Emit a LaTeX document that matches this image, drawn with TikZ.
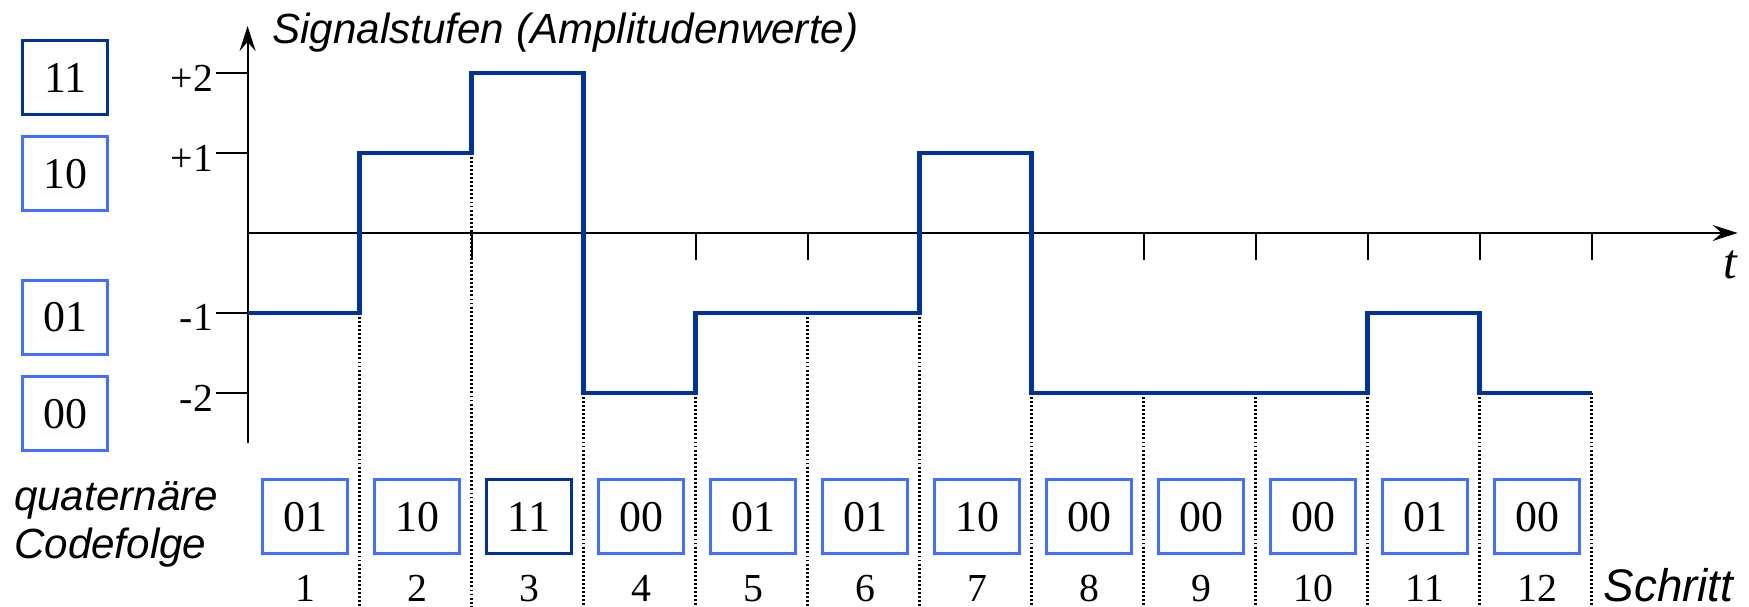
\documentclass[tikz,border=0pt]{standalone}
\usepackage{fontspec}
\setmainfont{Liberation Serif}
\setsansfont{Liberation Sans}
\usepackage{tikz}
\usetikzlibrary{arrows.meta}
\usetikzlibrary{positioning}

\definecolor{signalblue}{RGB}{0,51,153}
\definecolor{boxblue}{RGB}{64,112,255}

\begin{document}
\begin{tikzpicture}[
            codebox/.style={draw=boxblue, line width=0.7pt, minimum width=0.85cm, minimum height=0.74cm, inner sep=0pt, font=\fontsize{12.5}{15}\selectfont},
            darkbox/.style={codebox, draw=signalblue},
            signal/.style={draw=signalblue, line width=1.4pt},
            gridline/.style={line width=0.9pt, dash pattern=on 0.55pt off 0.6pt},
            axis/.style={line width=0.6pt},
            lvl/.style={anchor=east, inner sep=0pt, font=\fontsize{11.3}{13}\selectfont},
            stepnr/.style={anchor=base, inner sep=0pt, font=\fontsize{11.3}{13}\selectfont},
            caption/.style={inner sep=0pt, font=\sffamily\itshape\fontsize{12}{14}\selectfont}
        ]
            \useasboundingbox (-2.476,-3.73) rectangle (15.014,2.33);

            % step borders
            \draw[gridline] (1.12,-0.8) -- (1.12,-3.73);
            \draw[gridline] (2.24,0.8) -- (2.24,-3.73);
            \draw[gridline] (3.36,-1.6) -- (3.36,-3.73);
            \draw[gridline] (4.48,-1.6) -- (4.48,-3.73);
            \draw[gridline] (5.60,-0.8) -- (5.60,-3.73);
            \draw[gridline] (6.72,-0.8) -- (6.72,-3.73);
            \draw[gridline] (7.84,-1.6) -- (7.84,-3.73);
            \draw[gridline] (8.96,-1.6) -- (8.96,-3.73);
            \draw[gridline] (10.08,-1.6) -- (10.08,-3.73);
            \draw[gridline] (11.20,-1.6) -- (11.20,-3.73);
            \draw[gridline] (12.32,-1.6) -- (12.32,-3.73);
            \draw[gridline] (13.44,-1.6) -- (13.44,-3.73);

            % axes
            \draw[axis, -{Stealth[length=2.5mm, width=1.6mm, inset=0.9mm]}] (0,-2.1) -- (0,2.07);
            \draw[axis, -{Stealth[length=2.5mm, width=1.6mm, inset=0.9mm]}] (0,0) -- (14.9,0);
            \draw[axis] (-0.32,1.6) -- (0,1.6);
            \draw[axis] (-0.32,0.8) -- (0,0.8);
            \draw[axis] (-0.32,-0.8) -- (0,-0.8);
            \draw[axis] (-0.32,-1.6) -- (0,-1.6);
            \draw[axis] (1.12,0) -- (1.12,-0.27);
            \draw[axis] (2.24,0) -- (2.24,-0.27);
            \draw[axis] (3.36,0) -- (3.36,-0.27);
            \draw[axis] (4.48,0) -- (4.48,-0.27);
            \draw[axis] (5.60,0) -- (5.60,-0.27);
            \draw[axis] (6.72,0) -- (6.72,-0.27);
            \draw[axis] (7.84,0) -- (7.84,-0.27);
            \draw[axis] (8.96,0) -- (8.96,-0.27);
            \draw[axis] (10.08,0) -- (10.08,-0.27);
            \draw[axis] (11.20,0) -- (11.20,-0.27);
            \draw[axis] (12.32,0) -- (12.32,-0.27);
            \draw[axis] (13.44,0) -- (13.44,-0.27);

            \draw (-0.34,1.55) node[lvl] (p2) {+2};
            \draw (-0.34,0.75) node[lvl] (p1) {+1};
            \draw (-0.34,-0.84) node[lvl] (m1) {-1};
            \draw (-0.34,-1.65) node[lvl] (m2) {-2};
            \draw (0.24,1.897) node[caption, anchor=base west] (ylab) {Signalstufen (Amplitudenwerte)};
            \draw (14.83,-0.45) node[anchor=base, inner sep=0pt, font=\itshape\fontsize{14}{16}\selectfont] (tlab) {t};

            % signal
            \draw[signal] (0,-0.8) -- (1.12,-0.8) -- (1.12,0.8) -- (2.24,0.8) -- (2.24,1.6)
                -- (3.36,1.6) -- (3.36,-1.6) -- (4.48,-1.6) -- (4.48,-0.8) -- (6.72,-0.8)
                -- (6.72,0.8) -- (7.84,0.8) -- (7.84,-1.6) -- (11.20,-1.6) -- (11.20,-0.8)
                -- (12.32,-0.8) -- (12.32,-1.6) -- (13.44,-1.6);

            % level codes
            \draw (-1.824,1.555) node[darkbox] (k11) {11};
            \draw (-1.824,0.593) node[codebox] (k10) {10};
            \draw (-1.824,-0.843) node[codebox] (k01) {01};
            \draw (-1.824,-1.807) node[codebox] (k00) {00};

            % code sequence
            \draw (-2.342,-2.77) node[caption, anchor=base west] (quat) {quaternäre};
            \draw ([yshift=-0.48cm]quat.base west) node[caption, anchor=base west] (cfolge) {Codefolge};
            \draw (0.575,-2.837) node[codebox] (c1) {01};
            \draw (1.695,-2.837) node[codebox] (c2) {10};
            \draw (2.815,-2.837) node[darkbox] (c3) {11};
            \draw (3.935,-2.837) node[codebox] (c4) {00};
            \draw (5.055,-2.837) node[codebox] (c5) {01};
            \draw (6.175,-2.837) node[codebox] (c6) {01};
            \draw (7.295,-2.837) node[codebox] (c7) {10};
            \draw (8.415,-2.837) node[codebox] (c8) {00};
            \draw (9.535,-2.837) node[codebox] (c9) {00};
            \draw (10.655,-2.837) node[codebox] (c10) {00};
            \draw (11.775,-2.837) node[codebox] (c11) {01};
            \draw (12.895,-2.837) node[codebox] (c12) {00};

            % step numbers
            \draw (0.575,-3.687) node[stepnr] (n1) {1};
            \draw (1.695,-3.687) node[stepnr] (n2) {2};
            \draw (2.815,-3.687) node[stepnr] (n3) {3};
            \draw (3.935,-3.687) node[stepnr] (n4) {4};
            \draw (5.055,-3.687) node[stepnr] (n5) {5};
            \draw (6.175,-3.687) node[stepnr] (n6) {6};
            \draw (7.295,-3.687) node[stepnr] (n7) {7};
            \draw (8.415,-3.687) node[stepnr] (n8) {8};
            \draw (9.535,-3.687) node[stepnr] (n9) {9};
            \draw (10.655,-3.687) node[stepnr] (n10) {10};
            \draw (11.775,-3.687) node[stepnr] (n11) {11};
            \draw (12.895,-3.687) node[stepnr] (n12) {12};
            \draw (13.554,-3.687) node[caption, anchor=base west, font=\sffamily\itshape\fontsize{13}{15}\selectfont] (schritt) {Schritt};

            \end{tikzpicture}
\end{document}
